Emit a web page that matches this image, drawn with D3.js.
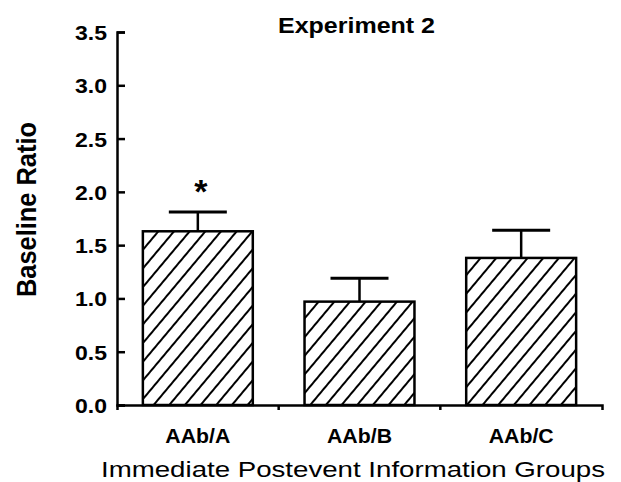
<!DOCTYPE html>
<meta charset="utf-8">
<head>
  <title>Experiment 2</title>
  <script src="https://cdnjs.cloudflare.com/ajax/libs/d3/7.8.5/d3.min.js"></script>
</head>
<style>
  body {
    margin: 0;
    background: white;
  }
  text {
    font-family: "Liberation Sans", Arial, Helvetica, sans-serif;
    fill: black;
  }
</style>
<body>
<div id="chart"></div>
<script>
  var groups = ["AAb/A", "AAb/B", "AAb/C"];
  var means = [1.63, 0.97, 1.38];
  var errors = [0.18, 0.22, 0.26];
  var marks = ["*", "", ""];
  var yTicks = [0, 0.5, 1, 1.5, 2, 2.5, 3, 3.5];

  var WIDTH = 621, HEIGHT = 482;
  // plot edges (window.top is taken, so no plain "top")
  var plotLeft = 117, plotRight = 602, plotTop = 32, plotBottom = 405;

  var svg = d3.select("#chart").append("svg")
    .attr("width", WIDTH)
    .attr("height", HEIGHT);

  // hatch for the bars
  svg.append("defs").append("pattern")
    .attr("id", "hatch")
    .attr("patternUnits", "userSpaceOnUse")
    .attr("width", 12)
    .attr("height", 12)
    .attr("patternTransform", "rotate(40)")
    .append("line")
      .attr("x1", 6).attr("y1", 0)
      .attr("x2", 6).attr("y2", 12)
      .attr("stroke", "black")
      .attr("stroke-width", 2);

  var x = d3.scaleBand()
    .domain(groups)
    .range([plotLeft, plotRight])
    .paddingInner(0.32)
    .paddingOuter(0.16);

  var y = d3.scaleLinear()
    .domain([0, 3.5])
    .range([plotBottom, plotTop]);

  var data = groups.map(function(g, i) {
    return {group: g, mean: means[i], err: errors[i], mark: marks[i]};
  });

  // bars
  svg.selectAll(".bar").data(data).enter().append("rect")
    .attr("class", "bar")
    .attr("x", function(d) { return x(d.group); })
    .attr("y", function(d) { return y(d.mean); })
    .attr("width", x.bandwidth())
    .attr("height", function(d) { return y(0) - y(d.mean); })
    .attr("fill", "url(#hatch)")
    .attr("stroke", "black")
    .attr("stroke-width", 2.5);

  // error bars
  var cap = 58;
  svg.selectAll(".errline").data(data).enter().append("line")
    .attr("x1", function(d) { return x(d.group) + x.bandwidth() / 2; })
    .attr("x2", function(d) { return x(d.group) + x.bandwidth() / 2; })
    .attr("y1", function(d) { return y(d.mean); })
    .attr("y2", function(d) { return y(d.mean + d.err); })
    .attr("stroke", "black")
    .attr("stroke-width", 2.5);

  svg.selectAll(".errcap").data(data).enter().append("line")
    .attr("x1", function(d) { return x(d.group) + x.bandwidth() / 2 - cap / 2; })
    .attr("x2", function(d) { return x(d.group) + x.bandwidth() / 2 + cap / 2; })
    .attr("y1", function(d) { return y(d.mean + d.err); })
    .attr("y2", function(d) { return y(d.mean + d.err); })
    .attr("stroke", "black")
    .attr("stroke-width", 3);

  // significance star
  svg.selectAll(".star").data(data).enter().append("text")
    .attr("x", function(d) { return x(d.group) + x.bandwidth() / 2 + 3; })
    .attr("y", function(d) { return y(d.mean + d.err) - 9; })
    .attr("text-anchor", "middle")
    .style("font-size", "34px")
    .style("font-weight", "bold")
    .text(function(d) { return d.mark; });

  // y axis, ticks pointing inward
  var yAxis = svg.append("g")
    .attr("transform", "translate(" + plotLeft + ",0)")
    .call(d3.axisLeft(y)
      .tickValues(yTicks)
      .tickFormat(d3.format(".1f"))
      .tickSizeInner(-8)
      .tickSizeOuter(-8)
      .tickPadding(10));

  yAxis.selectAll("path, line")
    .attr("stroke", "black")
    .attr("stroke-width", 2.5);
  yAxis.selectAll("text")
    .attr("x", -10)
    .attr("dy", "0.36em")
    .attr("textLength", 32)
    .attr("lengthAdjust", "spacingAndGlyphs")
    .style("font-size", "21px")
    .style("font-weight", "bold");

  // x axis
  var xAxis = svg.append("g")
    .attr("transform", "translate(0," + plotBottom + ")")
    .call(d3.axisBottom(x)
      .tickSizeInner(0)
      .tickSizeOuter(5));

  xAxis.select(".domain")
    .attr("stroke", "black")
    .attr("stroke-width", 2.5);
  xAxis.selectAll(".tick line").remove();
  xAxis.selectAll("text")
    .attr("y", 23.5)
    .attr("textLength", 65)
    .attr("lengthAdjust", "spacingAndGlyphs")
    .style("font-size", "20px")
    .style("font-weight", "bold");

  // small ticks between the groups
  xAxis.selectAll(".sep").data(groups.slice(1)).enter().append("line")
    .attr("x1", function(d) { return x(d) - x.step() * x.paddingInner() / 2; })
    .attr("x2", function(d) { return x(d) - x.step() * x.paddingInner() / 2; })
    .attr("y1", 0)
    .attr("y2", 5)
    .attr("stroke", "black")
    .attr("stroke-width", 2.5);

  // titles
  svg.append("text")
    .attr("x", 356.5)
    .attr("y", 33)
    .attr("text-anchor", "middle")
    .attr("textLength", 157)
    .attr("lengthAdjust", "spacingAndGlyphs")
    .style("font-size", "22px")
    .style("font-weight", "bold")
    .text("Experiment 2");

  svg.append("text")
    .attr("x", 353)
    .attr("y", 477)
    .attr("text-anchor", "middle")
    .attr("textLength", 504)
    .attr("lengthAdjust", "spacingAndGlyphs")
    .style("font-size", "22px")
    .text("Immediate Postevent Information Groups");

  svg.append("text")
    .attr("transform", "translate(36,209.5) scale(1.26,1) rotate(-90)")
    .attr("text-anchor", "middle")
    .attr("textLength", 175)
    .attr("lengthAdjust", "spacingAndGlyphs")
    .style("font-size", "22px")
    .style("font-weight", "bold")
    .text("Baseline Ratio");
</script>
</body>
